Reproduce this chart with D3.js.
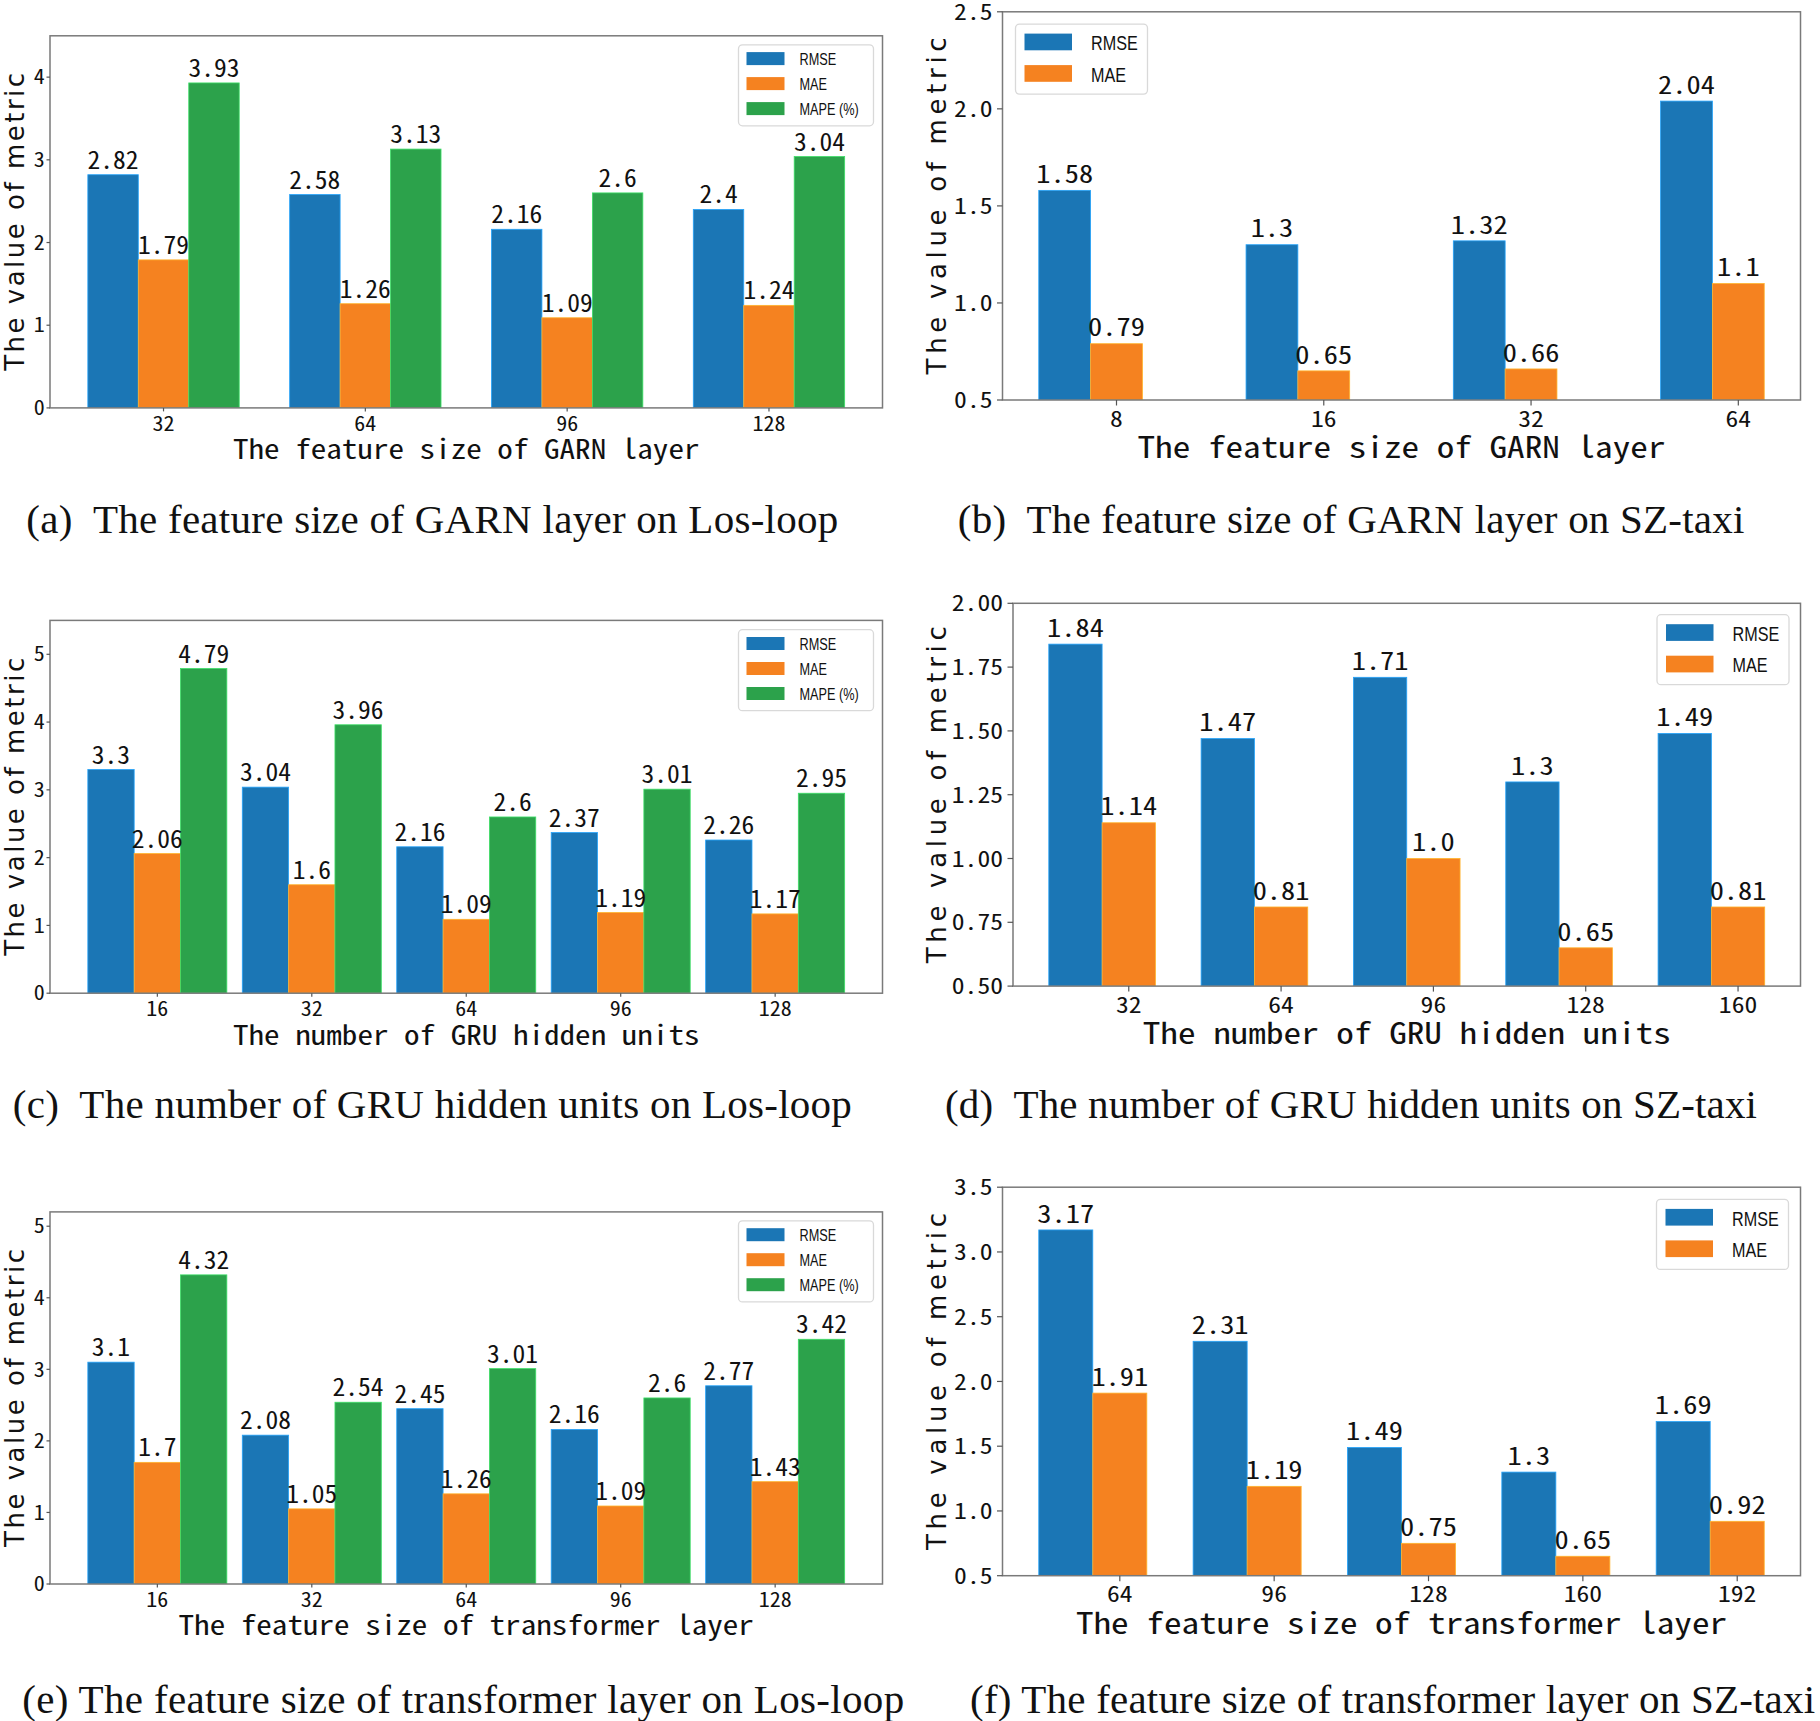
<!DOCTYPE html>
<html><head><meta charset="utf-8">
<script src="https://cdn.jsdelivr.net/npm/d3@7/dist/d3.min.js"></script>
<style>
html,body{margin:0;padding:0;background:#fff;}
svg{display:block;}
</style></head>
<body>
<svg id="fig" width="1820" height="1721"></svg>
<script>
// ---------------- DATA ----------------
const seriesNames3 = ["RMSE", "MAE", "MAPE (%)"];
const seriesNames2 = ["RMSE", "MAE"];

const catsA = ["32", "64", "96", "128"];
const rmseA = [2.82, 2.58, 2.16, 2.4];
const maeA  = [1.79, 1.26, 1.09, 1.24];
const mapeA = [3.93, 3.13, 2.6, 3.04];

const catsB = ["8", "16", "32", "64"];
const rmseB = [1.58, 1.3, 1.32, 2.04];
const maeB  = [0.79, 0.65, 0.66, 1.1];

const catsC = ["16", "32", "64", "96", "128"];
const rmseC = [3.3, 3.04, 2.16, 2.37, 2.26];
const maeC  = [2.06, 1.6, 1.09, 1.19, 1.17];
const mapeC = [4.79, 3.96, 2.6, 3.01, 2.95];

const catsD = ["32", "64", "96", "128", "160"];
const rmseD = [1.84, 1.47, 1.71, 1.3, 1.49];
const maeD  = [1.14, 0.81, 1.0, 0.65, 0.81];

const catsE = ["16", "32", "64", "96", "128"];
const rmseE = [3.1, 2.08, 2.45, 2.16, 2.77];
const maeE  = [1.7, 1.05, 1.26, 1.09, 1.43];
const mapeE = [4.32, 2.54, 3.01, 2.6, 3.42];

const catsF = ["64", "96", "128", "160", "192"];
const rmseF = [3.17, 2.31, 1.49, 1.3, 1.69];
const maeF  = [1.91, 1.19, 0.75, 0.65, 0.92];

const yTicksA = [0, 1, 2, 3, 4];
const yTicksB = [0.5, 1.0, 1.5, 2.0, 2.5];
const yTicksC = [0, 1, 2, 3, 4, 5];
const yTicksD = [0.5, 0.75, 1.0, 1.25, 1.5, 1.75, 2.0];
const yTicksE = [0, 1, 2, 3, 4, 5];
const yTicksF = [0.5, 1.0, 1.5, 2.0, 2.5, 3.0, 3.5];

const xLabelA = "The feature size of GARN layer";
const xLabelC = "The number of GRU hidden units";
const xLabelE = "The feature size of transformer layer";
const yLabel = "The value of metric";

const captionA = "(a)  The feature size of GARN layer on Los-loop";
const captionB = "(b)  The feature size of GARN layer on SZ-taxi";
const captionC = "(c)  The number of GRU hidden units on Los-loop";
const captionD = "(d)  The number of GRU hidden units on SZ-taxi";
const captionE = "(e) The feature size of transformer layer on Los-loop";
const captionF = "(f) The feature size of transformer layer on SZ-taxi";

// ---------------- STYLE / LAYOUT ----------------
const colors = ["#1b76b5", "#f58220", "#2ca24b"];
const monoFont = "'Noto Sans Mono CJK SC','DejaVu Sans Mono',monospace";

const styleL = {
  tickSize: 20, tickAdv: 11, tickLen: 3.5, tickPad: 1.8, xTickBase: 22.8,
  valueSize: 24.5, valueAdv: 12.75, valueGap: 6,
  xlabSize: 27.5, xlabAdv: 15.55, xlabBase: 51.3,
  ylabSize: 26, ylabLen: 298,
  leg: {w: 135, h: 81, patchX: 8, patchW: 38, patchH: 13, row0: 7.3, rowStep: 25, textX: 61, fontSize: 16.3, squeeze: 0.78}
};
const styleR = {
  tickSize: 22.5, tickAdv: 12.8, tickLen: 5.5, tickPad: 4.5, xTickBase: 26.5,
  valueSize: 24.5, valueAdv: 14.2, valueGap: 7.3,
  xlabSize: 30, xlabAdv: 17.6, xlabBase: 57.8,
  ylabSize: 26, ylabLen: 337,
  leg: {w: 132, h: 70, patchX: 9, patchW: 47.5, patchH: 16.7, row0: 9.5, rowStep: 31.5, textX: 75.5, fontSize: 21, squeeze: 0.77}
};

const panels = [
  {cats: catsA, series: [rmseA, maeA, mapeA], names: seriesNames3, w: 0.25, ydom: [0, 4.5], yticks: yTicksA, yfmt: d3.format("d"),
   box: {l: 50, r: 882.5, t: 35.8, b: 407.9}, st: styleL, xlabel: xLabelA, ylabX: 24,
   legend: {corner: "tr", dx: 9, dy: 9}, caption: captionA, capX: 26.3, capY: 533, capW: 812},
  {cats: catsB, series: [rmseB, maeB], names: seriesNames2, w: 0.25, ydom: [0.5, 2.5], yticks: yTicksB, yfmt: d3.format(".1f"),
   box: {l: 1002.5, r: 1800.5, t: 11.8, b: 400}, st: styleR, xlabel: xLabelA, ylabX: 946,
   legend: {corner: "tl", dx: 13, dy: 12.3}, caption: captionB, capX: 957.8, capY: 533, capW: 786.5},
  {cats: catsC, series: [rmseC, maeC, mapeC], names: seriesNames3, w: 0.3, ydom: [0, 5.5], yticks: yTicksC, yfmt: d3.format("d"),
   box: {l: 50, r: 882.5, t: 620.4, b: 993.2}, st: styleL, xlabel: xLabelC, ylabX: 24,
   legend: {corner: "tr", dx: 9, dy: 9.3}, caption: captionC, capX: 12.8, capY: 1118.4, capW: 839},
  {cats: catsD, series: [rmseD, maeD], names: seriesNames2, w: 0.35, ydom: [0.5, 2.0], yticks: yTicksD, yfmt: d3.format(".2f"),
   box: {l: 1013, r: 1800.5, t: 603.3, b: 986.1}, st: styleR, xlabel: xLabelC, ylabX: 946,
   legend: {corner: "tr", dx: 11.5, dy: 11.4}, caption: captionD, capX: 945, capY: 1118.4, capW: 812},
  {cats: catsE, series: [rmseE, maeE, mapeE], names: seriesNames3, w: 0.3, ydom: [0, 5.2], yticks: yTicksE, yfmt: d3.format("d"),
   box: {l: 50, r: 882.5, t: 1211.9, b: 1584}, st: styleL, xlabel: xLabelE, ylabX: 24,
   legend: {corner: "tr", dx: 9, dy: 9}, caption: captionE, capX: 22.2, capY: 1712.8, capW: 882},
  {cats: catsF, series: [rmseF, maeF], names: seriesNames2, w: 0.35, ydom: [0.5, 3.5], yticks: yTicksF, yfmt: d3.format(".1f"),
   box: {l: 1002.5, r: 1800.5, t: 1187.2, b: 1575.7}, st: styleR, xlabel: xLabelE, ylabX: 946,
   legend: {corner: "tr", dx: 12, dy: 12.2}, caption: captionF, capX: 970.1, capY: 1712.8, capW: 845}
];

const fmtVal = v => Number.isInteger(v) ? v.toFixed(1) : String(v);

const svg = d3.select("#fig");
const defs = svg.append("defs");

panels.forEach((p, pi) => {
  const st = p.st, bx = p.box;
  const n = p.cats.length, ns = p.series.length, w = p.w;
  // matplotlib-like x limits: bars centred at i + (k-1)*w, 5% margins
  const dMin = -w - w / 2, dMax = (n - 1) + (ns - 2) * w + w / 2;
  const m = (dMax - dMin) * 0.05;
  const x = d3.scaleLinear().domain([dMin - m, dMax + m]).range([bx.l, bx.r]);
  const y = d3.scaleLinear().domain(p.ydom).range([bx.b, bx.t]);

  const g = svg.append("g");
  const clipId = "clip" + pi;
  defs.append("clipPath").attr("id", clipId).append("rect")
    .attr("x", bx.l).attr("y", bx.t).attr("width", bx.r - bx.l).attr("height", bx.b - bx.t);

  // bars
  const barsG = g.append("g").attr("clip-path", `url(#${clipId})`);
  p.series.forEach((vals, k) => {
    barsG.selectAll(null).data(vals).enter().append("rect")
      .attr("x", (d, i) => x(i + (k - 1) * w - w / 2))
      .attr("width", (d, i) => x(i + (k - 1) * w + w / 2) - x(i + (k - 1) * w - w / 2))
      .attr("y", d => y(d))
      .attr("height", d => y(p.ydom[0]) - y(d))
      .attr("fill", colors[k])
      .attr("stroke", d3.color(colors[k]).brighter(0.9))
      .attr("stroke-width", 0.8);
  });

  // value labels
  p.series.forEach((vals, k) => {
    g.selectAll(null).data(vals).enter().append("text")
      .attr("x", (d, i) => x(i + (k - 1) * w))
      .attr("y", d => y(d) - st.valueGap)
      .attr("text-anchor", "middle")
      .attr("font-family", monoFont)
      .attr("font-size", st.valueSize)
      .attr("textLength", d => fmtVal(d).length * st.valueAdv)
      .attr("lengthAdjust", "spacingAndGlyphs")
      .attr("fill", "#111")
      .text(d => fmtVal(d));
  });

  // spines
  g.append("rect").attr("x", bx.l).attr("y", bx.t).attr("width", bx.r - bx.l).attr("height", bx.b - bx.t)
    .attr("fill", "none").attr("stroke", "#7a7a7a").attr("stroke-width", 1.5);

  // x ticks
  const xt = g.append("g");
  d3.range(n).forEach(i => {
    xt.append("line").attr("x1", x(i)).attr("x2", x(i)).attr("y1", bx.b).attr("y2", bx.b + st.tickLen)
      .attr("stroke", "#555").attr("stroke-width", 1.2);
    xt.append("text").attr("x", x(i)).attr("y", bx.b + st.xTickBase)
      .attr("text-anchor", "middle").attr("font-family", monoFont).attr("font-size", st.tickSize)
      .attr("textLength", p.cats[i].length * st.tickAdv).attr("lengthAdjust", "spacingAndGlyphs")
      .attr("fill", "#111").text(p.cats[i]);
  });

  // y ticks
  const yt = g.append("g");
  p.yticks.forEach(t => {
    const lab = p.yfmt(t);
    yt.append("line").attr("x1", bx.l - st.tickLen).attr("x2", bx.l).attr("y1", y(t)).attr("y2", y(t))
      .attr("stroke", "#555").attr("stroke-width", 1.2);
    yt.append("text").attr("x", bx.l - st.tickLen - st.tickPad).attr("y", y(t)).attr("dy", "0.36em")
      .attr("text-anchor", "end").attr("font-family", monoFont).attr("font-size", st.tickSize)
      .attr("textLength", lab.length * st.tickAdv).attr("lengthAdjust", "spacingAndGlyphs")
      .attr("fill", "#111").text(lab);
  });

  // axis labels
  g.append("text").attr("x", (bx.l + bx.r) / 2).attr("y", bx.b + st.xlabBase)
    .attr("text-anchor", "middle").attr("font-family", monoFont).attr("font-size", st.xlabSize)
    .attr("textLength", p.xlabel.length * st.xlabAdv).attr("lengthAdjust", "spacingAndGlyphs")
    .attr("fill", "#111").text(p.xlabel);
  g.append("text").attr("transform", `translate(${p.ylabX},${(bx.t + bx.b) / 2}) rotate(-90)`)
    .attr("text-anchor", "middle").attr("font-family", "'DejaVu Sans',sans-serif").attr("font-size", st.ylabSize)
    .attr("textLength", st.ylabLen).attr("lengthAdjust", "spacing")
    .attr("fill", "#111").text(yLabel);

  // legend
  const L = st.leg;
  const lx = p.legend.corner === "tr" ? bx.r - p.legend.dx - L.w : bx.l + p.legend.dx;
  const ly = bx.t + p.legend.dy;
  const lg = g.append("g").attr("transform", `translate(${lx},${ly})`);
  lg.append("rect").attr("width", L.w).attr("height", L.h).attr("rx", 4)
    .attr("fill", "#fff").attr("fill-opacity", 0.9).attr("stroke", "#d9d9d9").attr("stroke-width", 1.3);
  p.names.forEach((nm, k) => {
    lg.append("rect").attr("x", L.patchX).attr("y", L.row0 + k * L.rowStep)
      .attr("width", L.patchW).attr("height", L.patchH).attr("fill", colors[k]);
    const t = lg.append("text").attr("x", L.textX).attr("y", L.row0 + k * L.rowStep + L.patchH)
      .attr("font-family", "'Liberation Sans',Arial,sans-serif").attr("font-size", L.fontSize)
      .attr("fill", "#111").text(nm);
    const nat = t.node().getComputedTextLength();
    t.attr("textLength", nat * L.squeeze).attr("lengthAdjust", "spacingAndGlyphs");
  });

  // caption
  const c = svg.append("text").attr("x", p.capX).attr("y", p.capY)
    .attr("font-family", "'Liberation Serif','Times New Roman',serif").attr("font-size", 41)
    .attr("fill", "#111").attr("xml:space", "preserve").style("white-space", "pre").text(p.caption);
  if (p.capW) c.attr("textLength", p.capW).attr("lengthAdjust", "spacing");
});
</script>
</body></html>
